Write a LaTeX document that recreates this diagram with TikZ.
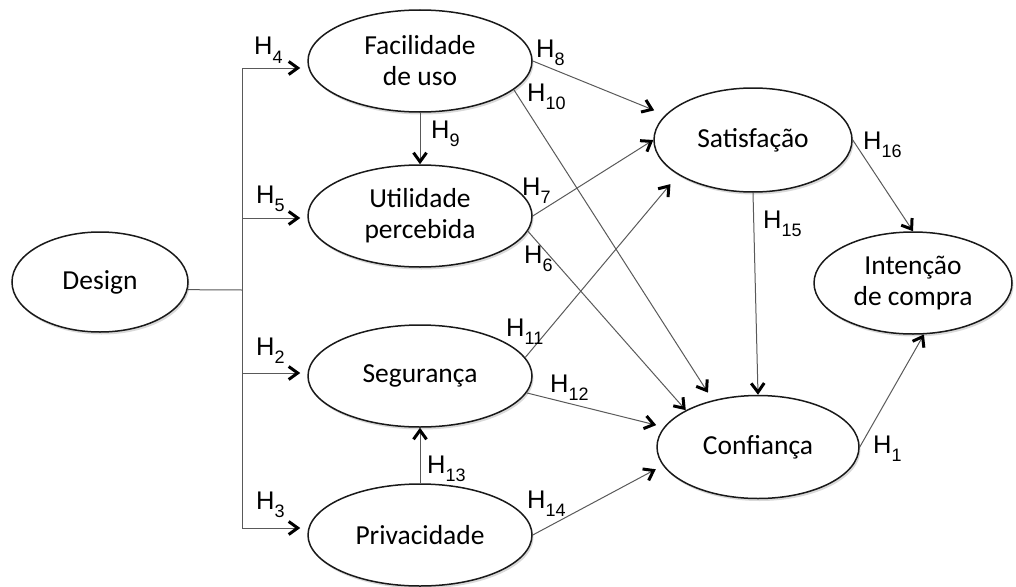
\documentclass[tikz,border=0pt]{standalone}
\usepackage{fontspec}
\setmainfont{Carlito}
\newfontfamily\hfont{Liberation Sans}
\usetikzlibrary{shapes.geometric, arrows.meta, shadows}

\newcommand{\hyp}[1]{H\raisebox{-0.34em}{\fontsize{18pt}{18pt}\selectfont #1}}

\tikzset{
  construct/.style={ellipse, draw=black!90, line width=1.5pt, fill=white,
    minimum width=224pt, minimum height=102pt, inner sep=0pt, align=center,
    font=\fontsize{27.5pt}{31pt}\selectfont,
    drop shadow={shadow xshift=1.5pt, shadow yshift=-2.5pt, opacity=0.3}},
  hlabel/.style={anchor=base west, inner sep=0pt, font=\hfont\fontsize{25.5pt}{25pt}\selectfont},
  link/.style={draw=black!65, line width=1pt}
}

\begin{document}
\begin{tikzpicture}[x=1pt,y=-1pt,->,>={Straight Barb[length=9pt,width=13pt,line width=3pt,color=black]},
    every edge/.style={link}]
            \useasboundingbox (0,0) rectangle (1016,586);

            \node[construct, minimum width=176pt, minimum height=100pt] (design) at (100,282) {Design};
            \node[construct] (fac) at (420,61) {Facilidade\\de uso};
            \node[construct] (util) at (420,216) {Utilidade\\percebida};
            \node[construct] (seg) at (420,376) {Segurança};
            \node[construct] (priv) at (420,535) {Privacidade};
            \node[construct, minimum width=198pt, minimum height=104pt] (sat) at (753,140) {Satisfação};
            \node[construct, minimum width=198pt, minimum height=102pt] (int) at (913,283) {Intenção\\de compra};
            \node[construct, minimum width=202pt, minimum height=103pt] (conf) at (758,447) {Confiança};

            % branches from Design
            \coordinate (bd) at (242,290);
            \coordinate (b4) at (242,68);
            \coordinate (b5) at (242,218);
            \coordinate (b2) at (242,373);
            \coordinate (b3) at (242,528);
            \draw[link,-] (design.-5) -- (bd);
            \draw[link,-] (b4) -- (b3);

            \path[shorten >=7pt]
            (b4) edge (b4 -| fac.west)
            (b5) edge (b5 -| util.west)
            (b2) edge (b2 -| seg.west)
            (b3) edge (b3 -| priv.west)
            ;

            \path
            (fac.east) edge [shorten >=12pt] (sat.164)
            (fac.-17) edge [shorten >=9pt] (conf.134)
            (fac.south) edge (util.north)
            (util.east) edge (sat.west)
            (util.-8) edge (conf.153)
            (seg.10) edge [shorten >=12pt] (sat.205)
            (seg.-9) edge [shorten >=8pt] (conf.168)
            (priv.north) edge (seg.south)
            (priv.east) edge [shorten >=8pt] (conf.191)
            (sat.south) edge (conf.north)
            (sat.east) edge (int.north)
            (conf.east) edge (int.-78)
            ;

            % hypothesis labels
            \node[hlabel] (h4) at (254,55) {\hyp{4}};
            \node[hlabel] (h5) at (256,203) {\hyp{5}};
            \node[hlabel] (h2) at (256,355) {\hyp{2}};
            \node[hlabel] (h3) at (256,509) {\hyp{3}};
            \node[hlabel] (h9) at (431,138) {\hyp{9}};
            \node[hlabel] (h13) at (427,473) {\hyp{13}};
            \node[hlabel] (h8) at (536,57) {\hyp{8}};
            \node[hlabel] (h10) at (527,101) {\hyp{10}};
            \node[hlabel] (h7) at (522,195) {\hyp{7}};
            \node[hlabel] (h6) at (524,263) {\hyp{6}};
            \node[hlabel] (h11) at (506,336) {\hyp{11}};
            \node[hlabel] (h12) at (550,392) {\hyp{12}};
            \node[hlabel] (h14) at (527,508) {\hyp{14}};
            \node[hlabel] (h15) at (763,228) {\hyp{15}};
            \node[hlabel] (h16) at (863,149) {\hyp{16}};
            \node[hlabel] (h1) at (873,453) {\hyp{1}};
        \end{tikzpicture}
\end{document}
